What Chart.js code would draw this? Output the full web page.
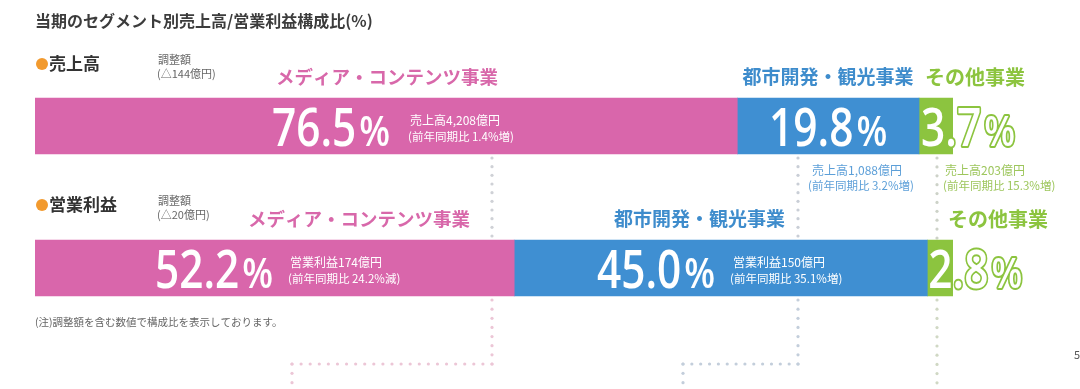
<!DOCTYPE html>
<html>
<head>
<meta charset="utf-8">
<script src="https://cdn.jsdelivr.net/npm/chart.js@4"></script>
<style>
  html, body { margin: 0; padding: 0; background: #fff; }
  #wrap { width: 1080px; height: 389px; position: relative; }
</style>
</head>
<body>
<div id="wrap"><canvas id="canvas"></canvas></div>
<script>
var rows = ['売上高', '営業利益']
var segments = ['メディア・コンテンツ事業', '都市開発・観光事業', 'その他事業']
var salesShare = [76.5, 19.8, 3.7]
var profitShare = [52.2, 45.0, 2.8]
var adjustments = ['(△144億円)', '(△20億円)']
var salesAmount = ['売上高4,208億円', '売上高1,088億円', '売上高203億円']
var salesChange = ['(前年同期比 1.4%増)', '(前年同期比 3.2%増)', '(前年同期比 15.3%増)']
var profitAmount = ['営業利益174億円', '営業利益150億円']
var profitChange = ['(前年同期比 24.2%減)', '(前年同期比 35.1%増)']

var barColors = ['#d966ab', '#3f8fd2', '#8cc43f']
var labelColors = ['#d868aa', '#3e8ccc', '#8cc43f']
var jp = '"Noto Sans CJK JP", "Noto Sans", sans-serif'

var canvas = document.getElementById('canvas')
var ctx = canvas.getContext('2d')

function text(c, str, x, y, size, color, weight, align) {
    c.font = (weight || 400) + ' ' + size + 'px ' + jp
    c.fillStyle = color
    c.textAlign = align || 'left'
    c.textBaseline = 'middle'
    c.fillText(str, x, y)
}

// big percentage: number + smaller % sign, squeezed a bit
function bigPct(c, value, x, baseline, align, fill, stroke) {
    var num = value.toFixed(1)
    var parts = [[num, 53, 0.8], ['%', 42, 0.85]]
    c.save()
    var widths = parts.map(function (p) {
        c.font = '600 ' + p[1] + 'px "Open Sans"'
        return c.measureText(p[0]).width * p[2]
    })
    var total = widths[0] + 3 + widths[1]
    var pos = align === 'center' ? x - total / 2 : x
    c.textAlign = 'left'
    c.textBaseline = 'alphabetic'
    c.lineJoin = 'round'
    parts.forEach(function (p, i) {
        c.save()
        c.translate(pos, baseline)
        c.scale(p[2], 1)
        c.font = '600 ' + p[1] + 'px "Open Sans"'
        if (stroke) {
            c.lineWidth = 4
            c.strokeStyle = stroke
            c.strokeText(p[0], 0, 0)
        }
        c.fillStyle = fill
        c.fillText(p[0], 0, 0)
        c.restore()
        pos += widths[i] + 3
    })
    c.restore()
}

function dots(c, pts, color) {
    c.fillStyle = color
    for (var i = 0; i < pts.length - 1; i++) {
        var a = pts[i], b = pts[i + 1]
        var len = Math.hypot(b[0] - a[0], b[1] - a[1])
        var n = Math.round(len / 9)
        for (var k = 0; k <= n; k++) {
            var t = n ? k / n : 0
            c.beginPath()
            c.arc(a[0] + (b[0] - a[0]) * t, a[1] + (b[1] - a[1]) * t, 1.6, 0, Math.PI * 2)
            c.fill()
        }
    }
}

var decorations = {
    id: 'decorations',
    beforeDatasetsDraw: function (chart) {
        var c = chart.ctx
        dots(c, [[492, 158], [492, 236]], '#cfd1d6')
        dots(c, [[798, 158], [798, 236]], '#c9ced6')
        dots(c, [[937, 158], [937, 238]], '#cdd2c8')
        dots(c, [[492, 300], [492, 364], [292, 364], [292, 392]], '#ecc6d6')
        dots(c, [[798, 300], [798, 364], [683, 364], [683, 392]], '#c3cedb')
        dots(c, [[937, 300], [937, 392]], '#d0d8c4')
    },
    afterDatasetsDraw: function (chart) {
        var c = chart.ctx
        var meta = [0, 1, 2].map(function (i) { return chart.getDatasetMeta(i).data })

        text(c, '当期のセグメント別売上高/営業利益構成比(%)', 35, 21, 16, '#3c3c3c', 700)

        // row headers
        var rowY = [64, 205]
        rows.forEach(function (r, j) {
            c.fillStyle = '#f29a2e'
            c.beginPath()
            c.arc(42, rowY[j], 6, 0, Math.PI * 2)
            c.fill()
            text(c, r, 49, rowY[j], 17, '#333', 700)
            text(c, '調整額', 158, rowY[j] - 4, 11, '#666')
            text(c, adjustments[j], 157, rowY[j] + 10, 11, '#666')
        })

        // segment names
        text(c, segments[0], 387, 77, 18.5, labelColors[0], 700, 'center')
        text(c, segments[1], 828, 77, 19, labelColors[1], 700, 'center')
        text(c, segments[2], 925, 77, 20, labelColors[2], 700, 'left')
        text(c, segments[0], 470, 219, 18.5, labelColors[0], 700, 'right')
        text(c, segments[1], 785, 219, 19, labelColors[1], 700, 'right')
        text(c, segments[2], 948, 219, 20, labelColors[2], 700, 'left')

        // sales row
        var y0 = meta[0][0].y
        bigPct(c, salesShare[0], 272, y0 + 20, 'left', '#fff')
        bigPct(c, salesShare[1], (meta[1][0].base + meta[1][0].x) / 2, y0 + 20, 'center', '#fff')
        bigPct(c, salesShare[2], meta[2][0].base + 2, y0 + 20, 'left', '#fff', barColors[2])
        text(c, salesAmount[0], 410, y0 - 6, 12, '#fff')
        text(c, salesChange[0], 408, y0 + 11, 11.5, '#fff')
        text(c, salesAmount[1], 812, 170, 12, '#5c9fd8')
        text(c, salesChange[1], 808, 186, 11.5, '#5c9fd8')
        text(c, salesAmount[2], 945, 170, 12, '#9dc65c')
        text(c, salesChange[2], 943, 186, 11.5, '#9dc65c')

        // profit row
        var y1 = meta[0][1].y
        bigPct(c, profitShare[0], 155, y1 + 20, 'left', '#fff')
        bigPct(c, profitShare[1], 597, y1 + 20, 'left', '#fff')
        bigPct(c, profitShare[2], meta[2][1].base + 1, y1 + 20, 'left', '#fff', barColors[2])
        text(c, profitAmount[0], 290, y1 - 6, 12, '#fff')
        text(c, profitChange[0], 288, y1 + 11, 11.5, '#fff')
        text(c, profitAmount[1], 733, y1 - 6, 12, '#fff')
        text(c, profitChange[1], 730, y1 + 11, 11.5, '#fff')

        text(c, '(注)調整額を含む数値で構成比を表示しております。', 35, 322, 10.5, '#666')
        text(c, '5', 1074, 355, 11, '#555')
    }
}

var datasets = segments.map(function (s, i) {
    return {
        label: s,
        data: [salesShare[i], profitShare[i]],
        backgroundColor: barColors[i],
        borderWidth: 0,
        barThickness: 56
    }
})

var chart = new Chart(ctx, {
    type: 'bar',
    data: { labels: rows, datasets: datasets },
    options: {
        indexAxis: 'y',
        responsive: true,
        maintainAspectRatio: false,
        animation: false,
        layout: { padding: { left: 35, right: 127, top: 55, bottom: 50 } },
        scales: {
            x: { stacked: true, min: 0, max: 100, display: false },
            y: { stacked: true, display: false }
        },
        plugins: { legend: { display: false }, tooltip: { enabled: false } }
    },
    plugins: [decorations]
})

chart.canvas.parentNode.style.height = '389px'
chart.canvas.parentNode.style.width = '1080px'
</script>
</body>
</html>
